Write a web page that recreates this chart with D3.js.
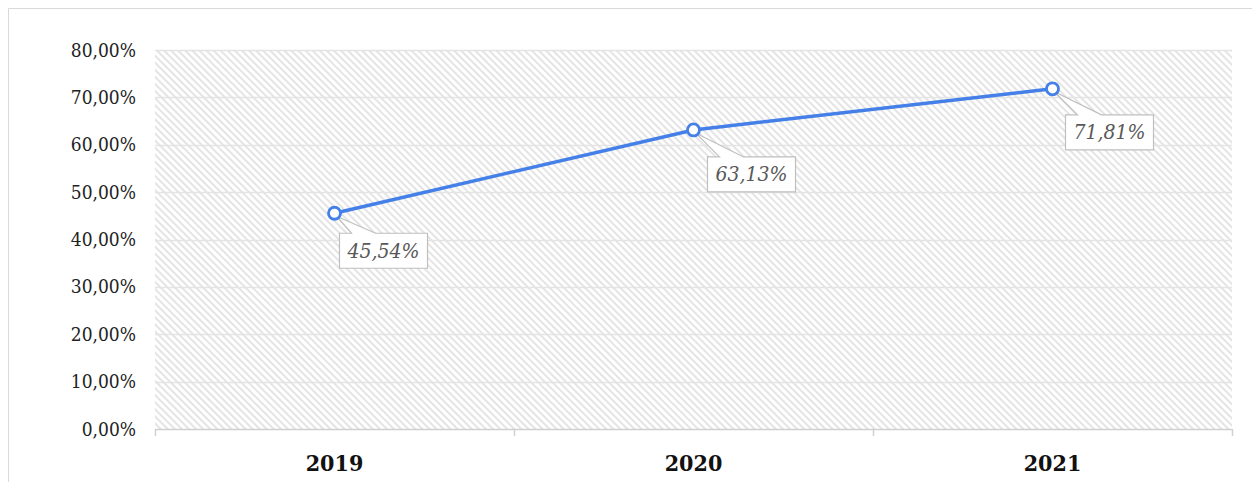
<!DOCTYPE html>
<html><head><meta charset="utf-8">
<script src="https://cdn.jsdelivr.net/npm/d3@7"></script>
<style>
html,body{margin:0;padding:0;background:#fff;}
svg{display:block;}
</style>
</head><body>
<svg id="c" width="1252" height="482"></svg>
<script>
const categories = ["2019", "2020", "2021"];
const values = [45.54, 63.13, 71.81];
const valueLabels = ["45,54%", "63,13%", "71,81%"];
const yTicks = [0, 10, 20, 30, 40, 50, 60, 70, 80];
const yTickLabels = ["0,00%", "10,00%", "20,00%", "30,00%", "40,00%", "50,00%", "60,00%", "70,00%", "80,00%"];

const FONT = "'DejaVu Serif Condensed', 'DejaVu Serif', serif";

const svg = d3.select("#c");
const W = 1252, H = 482;
const m = {left: 155, right: 20, top: 50, bottom: 53};
const pw = W - m.left - m.right, ph = H - m.top - m.bottom;

svg.append("path").attr("d", `M8.5,${H} L8.5,8.5 L${W},8.5`).attr("fill","none").attr("stroke","#d9d9d9").attr("stroke-width",1);

const defs = svg.append("defs");
const pat = defs.append("pattern").attr("id","hatch").attr("patternUnits","userSpaceOnUse")
  .attr("width",5).attr("height",5).attr("patternTransform","rotate(-45)");
pat.append("rect").attr("width",5).attr("height",5).attr("fill","#ffffff");
pat.append("line").attr("x1",1).attr("y1",0).attr("x2",1).attr("y2",5).attr("stroke","#dedede").attr("stroke-width",1.6);

const g = svg.append("g").attr("transform",`translate(${m.left},${m.top})`);
const x = d3.scaleBand().domain(categories).range([0,pw]).padding(0);
const y = d3.scaleLinear().domain([0,80]).range([ph,0]);

g.append("rect").attr("width",pw).attr("height",ph).attr("fill","url(#hatch)");

g.selectAll(".grid").data(yTicks.filter(d=>d>0)).join("line")
  .attr("x1",0).attr("x2",pw).attr("y1",d=>Math.round(y(d))+0.5).attr("y2",d=>Math.round(y(d))+0.5)
  .attr("stroke","#e4e4e4").attr("stroke-width",1.5);

const yAxis = d3.axisLeft(y).tickValues(yTicks).tickFormat((d,i)=>yTickLabels[i]).tickSize(0).tickPadding(19);
const ya = g.append("g").call(yAxis).attr("font-family", null);
ya.select(".domain").remove();
ya.selectAll("text").style("font-family", FONT).style("font-stretch","condensed").style("font-size","19px").attr("fill","#222");

const boundaries = [0, ...categories.map(c=>x(c)+x.bandwidth())];
g.append("line").attr("x1",0).attr("x2",pw).attr("y1",ph+0.5).attr("y2",ph+0.5).attr("stroke","#d0d0d0").attr("stroke-width",1.5);
g.selectAll(".xt").data(boundaries).join("line")
  .attr("x1",d=>d+0.5).attr("x2",d=>d+0.5).attr("y1",ph).attr("y2",ph+7).attr("stroke","#d0d0d0").attr("stroke-width",1.5);
const xAxis = d3.axisBottom(x).tickSize(0).tickPadding(0);
const xa = g.append("g").attr("transform",`translate(0,${ph})`).call(xAxis).attr("font-family", null);
xa.select(".domain").remove();
xa.selectAll("text").attr("y",0).attr("dy",42).style("font-family", FONT).style("font-stretch","condensed").style("font-size","23px").style("font-weight","bold").attr("fill","#111");

const pts = categories.map((c,i)=>({c, v:values[i], label:valueLabels[i], x:x(c)+x.bandwidth()/2, y:y(values[i])}));
g.append("path").datum(pts).attr("d", d3.line().x(d=>d.x).y(d=>d.y))
  .attr("fill","none").attr("stroke","#4580e8").attr("stroke-width",3.5);

const labelOffsets = [[5,20],[14,27],[13,26]];
const boxW = 88, boxH = 35;
pts.forEach((p,i)=>{
  const [dx,dy] = labelOffsets[i];
  const bx = p.x+dx, by = p.y+dy;
  const lg = g.append("g");
  lg.append("path")
    .attr("d", `M${bx},${by} L${bx+12},${by} L${p.x+2},${p.y+3} L${bx+36},${by} L${bx+boxW},${by} L${bx+boxW},${by+boxH} L${bx},${by+boxH} Z`)
    .attr("fill","#ffffff").attr("stroke","#bfbfbf").attr("stroke-width",1.2);
  lg.append("text").attr("x",bx+boxW/2).attr("y",by+boxH/2+7).attr("text-anchor","middle")
    .style("font-family", FONT).style("font-stretch","condensed").style("font-style","italic")
    .style("font-size","21px").attr("fill","#595959").text(p.label);
});

g.selectAll(".pt").data(pts).join("circle")
  .attr("cx",d=>d.x).attr("cy",d=>d.y).attr("r",6)
  .attr("fill","#ffffff").attr("stroke","#4580e8").attr("stroke-width",2.8);
</script>
</body></html>
